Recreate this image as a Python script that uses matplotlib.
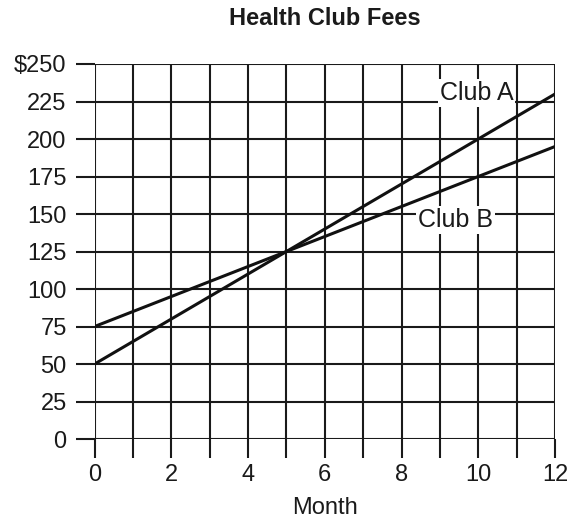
import numpy as np
import matplotlib
matplotlib.use("Agg")
import matplotlib.pyplot as plt

plt.rcParams['font.family'] = ['Liberation Sans', 'DejaVu Sans']

# monthly fees for the two clubs
months = [0, 12]
club_a = [50, 230]
club_b = [75, 195]
y_ticks = [0, 25, 50, 75, 100, 125, 150, 175, 200, 225, 250]
y_labels = ['0', '25', '50', '75', '100', '125', '150', '175', '200', '225', '$250']
x_ticks = [0, 2, 4, 6, 8, 10, 12]

fig = plt.figure(figsize=(5.71, 5.19), dpi=100)
ax = fig.add_axes((0.1655, 0.154, 0.8065, 0.7227))

ax.set_xlim(0, 12)
ax.set_ylim(0, 250)

# grid every month and every $25
for m in range(0, 13):
    ax.axvline(m, color='#1a1a1a', lw=1.5, zorder=1)
for v in y_ticks:
    ax.axhline(v, color='#1a1a1a', lw=1.5, zorder=1)

ax.plot(months, club_a, color='#111111', lw=2.2, zorder=3)
ax.plot(months, club_b, color='#111111', lw=2.2, zorder=3)

box = dict(facecolor='white', edgecolor='none', pad=1.5)
ax.text(9.95, 230.5, 'Club A', fontsize=18, ha='center', va='center',
        color='#1a1a1a', bbox=box, zorder=2)
ax.text(9.4, 146, 'Club B', fontsize=18, ha='center', va='center',
        color='#1a1a1a', bbox=box, zorder=2)

for s in ax.spines.values():
    s.set_visible(False)

ax.set_yticks(y_ticks, y_labels)
ax.set_xticks(range(0, 13), [str(m) if m in x_ticks else '' for m in range(0, 13)])
ax.tick_params(axis='both', length=14, width=1.5, color='#1a1a1a',
               labelsize=17, labelcolor='#1a1a1a', pad=4)
ax.tick_params(axis='y', pad=6)

ax.set_xlabel('Month', fontsize=17, color='#1a1a1a', labelpad=8)
ax.set_title('Health Club Fees', fontsize=17, fontweight='bold',
             color='#1a1a1a', pad=28)

fig.savefig('out.png', dpi=100)
